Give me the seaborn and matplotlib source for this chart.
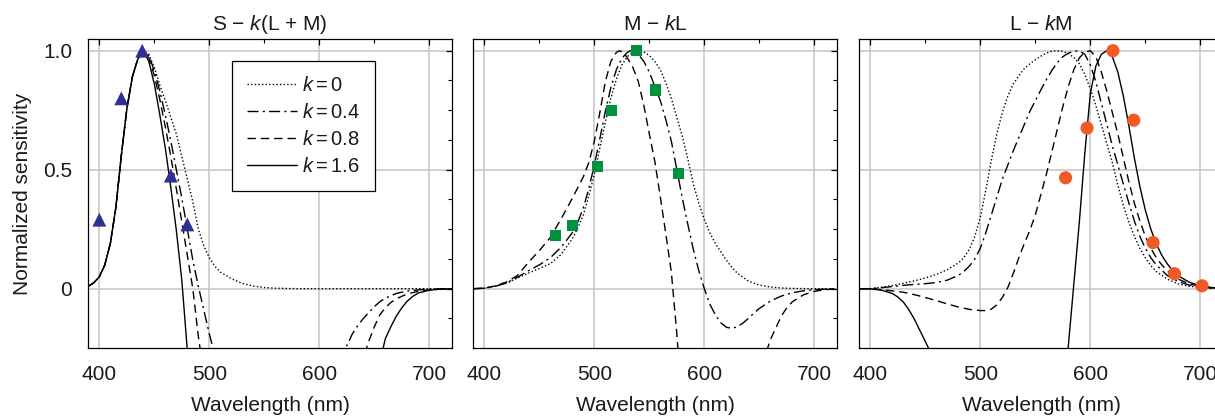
import matplotlib
matplotlib.use('Agg')
import matplotlib.pyplot as plt
from matplotlib.ticker import MultipleLocator
import seaborn as sns

# ---- data (wavelength in nm, normalized sensitivity) ----
# panel 1: S - k(L+M)
s_wl_k0 = [390, 395, 400, 405, 410, 415, 420, 425, 430, 435, 440, 445, 450, 455, 460, 465, 470,
           475, 480, 485, 490, 495, 500, 505, 510, 520, 530, 540, 550, 560, 580, 720]
s_k0 = [0.01, 0.025, 0.05, 0.10, 0.19, 0.34, 0.56, 0.755, 0.89, 0.965, 1.0, 0.985, 0.93, 0.855,
        0.79, 0.72, 0.65, 0.555, 0.46, 0.365, 0.25, 0.18, 0.13, 0.095, 0.07, 0.042, 0.022, 0.011,
        0.005, 0.002, 0.0, 0.0]
s_wl_k04 = [390, 395, 400, 405, 410, 415, 420, 425, 430, 435, 440, 445, 450, 455, 460, 465, 470,
            475, 480, 485, 490, 495, 500, 505, 510, 520, 560, 600, 615, 620, 625, 630, 635, 640,
            645, 650, 655, 660, 670, 680, 690, 700, 710, 720]
s_k04 = [0.01, 0.025, 0.05, 0.10, 0.19, 0.34, 0.56, 0.755, 0.89, 0.965, 1.0, 0.98, 0.915, 0.83,
         0.73, 0.62, 0.5, 0.38, 0.25, 0.12, 0.01, -0.09, -0.19, -0.28, -0.35, -0.5, -0.7, -0.5,
         -0.36, -0.3, -0.24, -0.19, -0.155, -0.125, -0.1, -0.075, -0.055, -0.04, -0.02, -0.01,
         -0.005, -0.002, -0.001, 0.0]
s_wl_k08 = [390, 395, 400, 405, 410, 415, 420, 425, 430, 435, 440, 445, 450, 455, 460, 465, 470,
            475, 480, 485, 490, 495, 500, 550, 600, 630, 640, 645, 650, 655, 660, 665, 670, 680,
            690, 700, 710, 720]
s_k08 = [0.01, 0.025, 0.05, 0.10, 0.19, 0.34, 0.56, 0.755, 0.89, 0.965, 1.0, 0.97, 0.895, 0.795,
         0.68, 0.555, 0.42, 0.28, 0.14, 0.0, -0.2, -0.36, -0.5, -0.9, -0.8, -0.45, -0.29, -0.22,
         -0.16, -0.11, -0.08, -0.058, -0.042, -0.022, -0.011, -0.005, -0.002, 0.0]
s_wl_k16 = [390, 395, 400, 405, 410, 415, 420, 425, 430, 435, 440, 445, 450, 455, 460, 465, 470,
            475, 480, 485, 500, 600, 640, 650, 655, 660, 665, 670, 675, 680, 685, 690, 700, 710, 720]
s_k16 = [0.01, 0.025, 0.05, 0.10, 0.19, 0.34, 0.56, 0.755, 0.89, 0.965, 1.0, 0.955, 0.86, 0.73,
         0.59, 0.425, 0.245, 0.035, -0.26, -0.6, -1.2, -1.5, -0.7, -0.42, -0.31, -0.21, -0.16,
         -0.115, -0.08, -0.052, -0.032, -0.018, -0.006, -0.002, 0.0]

# panel 2: M - kL
m_wl_k0 = [390, 400, 410, 420, 430, 440, 450, 460, 470, 480, 485, 490, 495, 500, 505, 510, 515,
           520, 525, 530, 535, 540, 545, 550, 555, 560, 565, 570, 575, 580, 585, 590, 595, 600,
           605, 610, 615, 620, 625, 630, 640, 650, 660, 670, 680, 700, 720]
m_k0 = [0.0, 0.002, 0.01, 0.022, 0.045, 0.065, 0.085, 0.105, 0.145, 0.21, 0.255, 0.31, 0.39,
        0.48, 0.59, 0.70, 0.80, 0.88, 0.94, 0.975, 0.994, 1.0, 0.995, 0.98, 0.955, 0.92, 0.865,
        0.8, 0.72, 0.64, 0.545, 0.44, 0.36, 0.29, 0.235, 0.19, 0.155, 0.12, 0.09, 0.065, 0.032,
        0.015, 0.007, 0.003, 0.001, 0.0, 0.0]
m_wl_k04 = [390, 400, 410, 420, 430, 440, 450, 460, 470, 480, 485, 490, 495, 500, 505, 510, 515,
            520, 525, 530, 533, 537, 540, 545, 550, 555, 560, 565, 570, 575, 580, 585, 590, 595,
            600, 605, 610, 615, 620, 625, 630, 635, 640, 645, 650, 660, 670, 680, 690, 700, 710, 720]
m_k04 = [0.0, 0.002, 0.01, 0.024, 0.048, 0.075, 0.1, 0.13, 0.175, 0.235, 0.28, 0.34, 0.42, 0.52,
         0.63, 0.745, 0.845, 0.92, 0.968, 0.993, 1.0, 0.995, 0.985, 0.955, 0.91, 0.85, 0.79, 0.71,
         0.62, 0.5, 0.38, 0.27, 0.165, 0.075, 0.0, -0.065, -0.11, -0.143, -0.162, -0.167, -0.16,
         -0.145, -0.125, -0.103, -0.083, -0.052, -0.031, -0.017, -0.009, -0.004, -0.002, 0.0]
m_wl_k08 = [390, 400, 410, 420, 430, 440, 450, 460, 470, 480, 490, 495, 500, 505, 510, 515, 520,
            523, 527, 530, 535, 540, 545, 550, 555, 560, 565, 570, 575, 580, 600, 640, 650, 655,
            660, 665, 670, 675, 680, 690, 700, 710, 720]
m_k08 = [0.0, 0.002, 0.012, 0.028, 0.055, 0.11, 0.16, 0.215, 0.295, 0.38, 0.47, 0.53, 0.62, 0.74,
         0.87, 0.955, 0.993, 1.0, 0.99, 0.97, 0.93, 0.87, 0.77, 0.65, 0.535, 0.385, 0.23, 0.07,
         -0.19, -0.5, -1.2, -0.7, -0.4, -0.285, -0.215, -0.165, -0.115, -0.08, -0.055, -0.026,
         -0.011, -0.004, -0.001]

# panel 3: L - kM
l_wl_k0 = [390, 400, 410, 420, 430, 440, 450, 460, 470, 480, 485, 490, 495, 500, 505, 510, 515,
           520, 525, 530, 535, 540, 545, 550, 555, 560, 565, 570, 575, 580, 585, 590, 595, 600,
           605, 610, 615, 620, 625, 630, 635, 640, 645, 650, 655, 660, 670, 680, 690, 700, 710, 720]
l_k0 = [0.0, 0.0, 0.006, 0.013, 0.023, 0.033, 0.045, 0.06, 0.08, 0.108, 0.13, 0.165, 0.22, 0.3,
        0.415, 0.54, 0.65, 0.74, 0.81, 0.86, 0.895, 0.925, 0.945, 0.962, 0.977, 0.99, 0.998, 1.0,
        0.997, 0.988, 0.972, 0.945, 0.9, 0.84, 0.77, 0.69, 0.61, 0.53, 0.435, 0.35, 0.28, 0.22,
        0.17, 0.13, 0.097, 0.072, 0.04, 0.02, 0.01, 0.005, 0.002, 0.001]
l_wl_k04 = [390, 400, 410, 420, 430, 440, 450, 460, 470, 480, 485, 490, 495, 500, 505, 510, 515,
            520, 525, 530, 535, 540, 545, 550, 555, 560, 565, 570, 575, 580, 585, 590, 595, 600,
            605, 610, 615, 620, 625, 630, 635, 640, 645, 650, 655, 660, 670, 680, 690, 700, 710, 720]
l_k04 = [0.0, 0.0, 0.004, 0.009, 0.014, 0.018, 0.021, 0.026, 0.036, 0.056, 0.072, 0.095, 0.125,
         0.17, 0.235, 0.31, 0.385, 0.46, 0.52, 0.58, 0.635, 0.69, 0.745, 0.79, 0.835, 0.878,
         0.917, 0.95, 0.975, 0.99, 0.998, 1.0, 0.985, 0.94, 0.87, 0.78, 0.69, 0.6, 0.52, 0.44,
         0.36, 0.285, 0.22, 0.17, 0.13, 0.1, 0.055, 0.03, 0.015, 0.007, 0.003, 0.001]
l_wl_k08 = [390, 400, 410, 420, 430, 440, 450, 460, 470, 480, 490, 500, 505, 510, 515, 520, 525,
            530, 535, 540, 545, 550, 555, 560, 565, 570, 575, 580, 585, 590, 595, 600, 605, 610,
            615, 620, 625, 630, 635, 640, 645, 650, 655, 660, 665, 670, 680, 690, 700, 710, 720]
l_k08 = [0.0, 0.0, -0.004, -0.009, -0.015, -0.025, -0.037, -0.05, -0.064, -0.077, -0.087, -0.092,
         -0.092, -0.086, -0.068, -0.037, 0.005, 0.065, 0.13, 0.19, 0.245, 0.31, 0.395, 0.48,
         0.575, 0.67, 0.765, 0.85, 0.92, 0.97, 0.994, 1.0, 0.975, 0.91, 0.83, 0.74, 0.65, 0.55,
         0.45, 0.36, 0.285, 0.22, 0.17, 0.13, 0.1, 0.075, 0.04, 0.02, 0.009, 0.004, 0.001]
l_wl_k16 = [390, 400, 410, 420, 425, 430, 435, 440, 445, 450, 455, 460, 480, 530, 570, 575, 580,
            585, 590, 595, 600, 605, 610, 615, 620, 625, 630, 635, 640, 645, 650, 655, 660, 665,
            670, 675, 680, 690, 700, 710, 720]
l_k16 = [0.0, -0.001, -0.006, -0.02, -0.035, -0.056, -0.088, -0.128, -0.175, -0.222, -0.27,
         -0.32, -0.6, -1.2, -0.8, -0.52, -0.24, 0.02, 0.28, 0.57, 0.82, 0.935, 0.985, 1.0, 0.975,
         0.91, 0.81, 0.685, 0.55, 0.43, 0.33, 0.25, 0.188, 0.14, 0.104, 0.075, 0.054, 0.027,
         0.012, 0.005, 0.002]

# measured points
tri_wl = [400, 420, 439, 465, 480]
tri_v = [0.29, 0.80, 1.0, 0.475, 0.27]
sq_wl = [464.5, 480, 502.5, 516, 538, 555.5, 576.5]
sq_v = [0.225, 0.265, 0.515, 0.748, 1.0, 0.835, 0.485]
circ_wl = [577.5, 597, 620.5, 639.5, 657, 676.5, 701.5]
circ_v = [0.466, 0.675, 1.0, 0.708, 0.194, 0.063, 0.012]

k_labels = ['0', '0.4', '0.8', '1.6']
titles = ['S \u2212 $k$(L + M)', 'M \u2212 $k$L', 'L \u2212 $k$M']

# ---- style ----
sns.set_theme(style='white')
plt.rcParams['font.family'] = ['Liberation Sans', 'DejaVu Sans']
plt.rcParams['mathtext.fontset'] = 'custom'
plt.rcParams['mathtext.rm'] = 'Liberation Sans'
plt.rcParams['mathtext.it'] = 'Liberation Sans:italic'
plt.rcParams['mathtext.bf'] = 'Liberation Sans:bold'
for key in ['text.color', 'axes.labelcolor', 'xtick.color', 'ytick.color']:
    plt.rcParams[key] = '#1a1a1a'

line_styles = [(0, (1, 1.6)), (0, (8, 3, 1.5, 3)), (0, (6, 3.6)), '-']

fig = plt.figure(figsize=(12.15, 4.16), dpi=100)
W, H = 1215, 416
lefts = [88, 473, 859]
axes = [fig.add_axes([l / W, 68.3 / H, 364 / W, 308.4 / H]) for l in lefts]

panels = [
    [(s_wl_k0, s_k0), (s_wl_k04, s_k04), (s_wl_k08, s_k08), (s_wl_k16, s_k16)],
    [(m_wl_k0, m_k0), (m_wl_k04, m_k04), (m_wl_k08, m_k08), None],
    [(l_wl_k0, l_k0), (l_wl_k04, l_k04), (l_wl_k08, l_k08), (l_wl_k16, l_k16)],
]
marks = [(tri_wl, tri_v, '^', '#2e3192', 100),
         (sq_wl, sq_v, 's', '#00923f', 64),
         (circ_wl, circ_v, 'o', '#f15a24', 90)]

for i, ax in enumerate(axes):
    for j, curve in enumerate(panels[i]):
        if curve is None:
            continue
        sns.lineplot(x=curve[0], y=curve[1], ax=ax, color='black', lw=1.0,
                     linestyle=line_styles[j], label=f'$k = {k_labels[j]}$' if i == 0 else None,
                     legend=False, zorder=2)
    mx, my, mk, mc, ms = marks[i]
    sns.scatterplot(x=mx, y=my, ax=ax, marker=mk, color=mc, s=ms, edgecolor='none',
                    linewidth=0, zorder=3, legend=False)

    ax.set_xlim(389.7, 720.6)
    ax.set_ylim(-0.248, 1.048)
    ax.xaxis.set_major_locator(MultipleLocator(100))
    ax.xaxis.set_minor_locator(MultipleLocator(50))
    ax.set_yticks([0, 0.5, 1.0])
    ax.yaxis.set_minor_locator(MultipleLocator(0.125))
    ax.grid(True, which='major', color='#c3c3c8', lw=1.1)
    ax.set_axisbelow(True)
    ax.tick_params(which='both', direction='in', top=True, right=True, color='black',
                   labelsize=15)
    ax.tick_params(axis='x', which='major', pad=12.5)
    ax.tick_params(axis='y', which='major', pad=11.5)
    ax.tick_params(which='major', length=4, width=0.9)
    ax.tick_params(which='minor', length=3, width=0.8)
    for sp in ax.spines.values():
        sp.set_color('black')
        sp.set_linewidth(0.9)
    ax.set_xlabel('Wavelength (nm)', fontsize=15, labelpad=8.5)
    ax.set_title(titles[i], fontsize=15, pad=7)
    if i == 0:
        ax.set_yticklabels(['0', '0.5', '1.0'])
        ax.set_ylabel('Normalized sensitivity', fontsize=15, labelpad=8)
        ax.legend(loc='upper left', bbox_to_anchor=(0.395, 0.931), borderaxespad=0,
                  fontsize=14.5, frameon=True, fancybox=False, edgecolor='black',
                  framealpha=1, handlelength=2.5, handletextpad=0.25, labelspacing=0.4,
                  borderpad=0.75).get_frame().set_linewidth(0.9)
    else:
        ax.set_ylabel('')
        ax.tick_params(labelleft=False)

fig.savefig('out.png', dpi=100)
